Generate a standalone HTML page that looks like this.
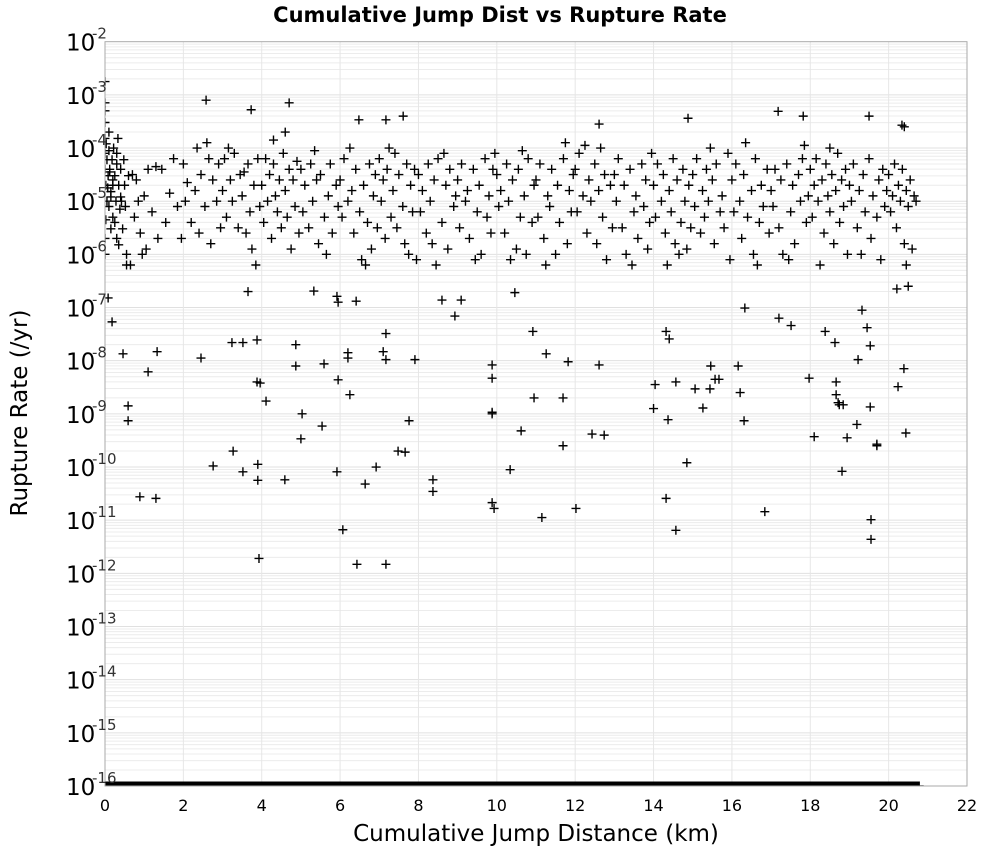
<!DOCTYPE html>
<html><head><meta charset="utf-8">
<style>
body{margin:0;background:#fff;}
svg{display:block;font-family:"DejaVu Sans","Liberation Sans",sans-serif;}
</style></head>
<body>
<svg id="chart" width="1000" height="850" xmlns="http://www.w3.org/2000/svg">
<text x="500" y="22" text-anchor="middle" font-size="21" font-weight="bold">Cumulative Jump Dist vs Rupture Rate</text>
<g id="grid"></g>
<g id="marks"></g>
<rect x="105" y="41.7" width="862" height="744.3" fill="none" stroke="#aaa" stroke-width="1"/>
<g id="xaxis"></g>
<g id="yaxis"></g>
<text x="536" y="841" text-anchor="middle" font-size="23">Cumulative Jump Distance (km)</text>
<text transform="translate(27,413) rotate(-90)" text-anchor="middle" font-size="23">Rupture Rate (/yr)</text>
</svg>
<script>
const xTicks=[0,2,4,6,8,10,12,14,16,18,20,22];
const yExpTicks=[-2,-3,-4,-5,-6,-7,-8,-9,-10,-11,-12,-13,-14,-15,-16];
// [km, log10 rate]
const nearZeroPts=[[0,-3.15],[0,-3.3],[0,-3.52],[0,-3.82],[0,-4.1],[0,-4.4],[0,-5.7],[0,-6],[0.02,-4.7],[0.03,-3.92],[0.05,-4.22],[0.05,-5],[0.08,-4.52],[0.1,-3.7],[0.1,-5.1],[0.12,-4.4],[0.15,-4.82],[0.15,-5.52],[0.18,-4.22],[0.2,-4.7],[0.2,-5.3],[0.22,-4],[0.25,-4.52],[0.28,-5],[0.3,-4.3],[0.3,-5.7],[0.33,-3.82],[0.35,-4.7],[0.38,-5.15],[0.4,-4.4],[0.42,-5],[0.45,-5.52],[0.48,-4.22],[0.5,-4.7],[0.52,-5.1],[0.55,-6],[0.6,-4.52],[0,-2.75],[0.1,-4.05],[0.15,-4.92],[0.2,-4.6],[0.25,-5.4],[0.3,-4.1],[0.35,-5.82],[0.4,-4.92],[0.02,-5.35],[0.07,-4.75],[0.12,-4.45]];
const bandPts=[
[0.7,-4.5],[0.75,-5.3],[0.8,-4.6],[0.85,-5.0],[0.9,-5.6],[1.0,-4.9],[1.05,-5.9],[1.1,-4.4],[1.2,-5.2],[1.3,-4.35],[1.35,-5.7],[1.45,-4.4],[1.55,-5.4],[1.65,-4.85],[1.75,-4.2],[1.85,-5.1],[1.95,-5.7],[0.95,-6.0],[0.55,-6.2],[0.65,-6.2],
[2.0,-4.3],[2.05,-5.0],[2.1,-4.65],[2.2,-5.4],[2.3,-4.8],[2.4,-5.6],[2.45,-4.5],[2.55,-5.1],[2.65,-4.2],[2.7,-5.8],[2.75,-4.6],[2.85,-5.0],[2.9,-4.3],[2.95,-5.5],[2.6,-3.9],[2.35,-4.0],
[3.0,-4.8],[3.05,-4.2],[3.1,-5.3],[3.2,-4.6],[3.25,-5.0],[3.3,-4.1],[3.4,-5.5],[3.45,-4.5],[3.5,-4.9],[3.6,-5.6],[3.65,-4.3],[3.7,-5.2],[3.8,-4.7],[3.85,-6.2],[3.9,-4.2],[3.95,-5.1],[3.75,-5.9],[3.15,-4.0],[3.55,-4.45],
[4.0,-4.7],[4.05,-5.4],[4.1,-4.2],[4.15,-5.0],[4.2,-4.5],[4.25,-5.7],[4.3,-4.3],[4.35,-4.9],[4.4,-5.2],[4.45,-4.6],[4.5,-5.5],[4.55,-4.1],[4.6,-4.8],[4.65,-5.3],[4.7,-4.4],[4.75,-5.9],[4.8,-4.6],[4.85,-5.1],[4.9,-4.25],[4.95,-5.6],[4.3,-3.85],[4.6,-3.7],
[5.0,-4.4],[5.05,-5.2],[5.1,-4.7],[5.2,-5.5],[5.25,-4.3],[5.3,-5.0],[5.4,-4.6],[5.45,-5.8],[5.5,-4.5],[5.6,-5.3],[5.7,-4.9],[5.75,-4.3],[5.8,-5.6],[5.9,-4.7],[5.95,-5.1],[5.35,-4.05],[5.65,-6.0],
[6.0,-4.6],[6.05,-5.3],[6.1,-4.2],[6.2,-5.0],[6.3,-4.8],[6.35,-5.6],[6.4,-4.4],[6.5,-5.2],[6.55,-6.1],[6.6,-4.7],[6.7,-5.4],[6.75,-4.3],[6.8,-5.9],[6.85,-4.9],[6.9,-4.5],[6.95,-5.5],[6.25,-4.0],[6.65,-6.2],
[7.0,-4.2],[7.05,-5.0],[7.1,-4.6],[7.15,-5.7],[7.2,-4.4],[7.3,-5.3],[7.35,-4.8],[7.4,-4.1],[7.45,-5.5],[7.5,-4.5],[7.6,-5.1],[7.7,-4.3],[7.75,-6.0],[7.8,-4.7],[7.85,-5.2],[7.9,-4.4],[7.95,-6.1],[7.25,-4.0],[7.65,-5.8],
[8.0,-4.5],[8.05,-5.2],[8.1,-4.8],[8.2,-5.6],[8.25,-4.3],[8.3,-5.0],[8.4,-4.6],[8.45,-6.2],[8.5,-4.2],[8.6,-5.4],[8.7,-4.7],[8.75,-5.9],[8.8,-4.4],[8.9,-5.1],[8.95,-4.9],[8.35,-5.8],[8.65,-4.1],
[9.0,-4.6],[9.05,-5.5],[9.1,-4.3],[9.2,-5.0],[9.25,-4.8],[9.3,-5.7],[9.4,-4.4],[9.5,-5.2],[9.55,-4.7],[9.6,-6.0],[9.7,-4.2],[9.75,-5.3],[9.8,-4.9],[9.85,-5.6],[9.9,-4.4],[9.95,-4.1],[9.45,-6.1],
[10.0,-4.5],[10.05,-5.1],[10.1,-4.8],[10.2,-5.6],[10.25,-4.3],[10.3,-5.0],[10.4,-4.6],[10.5,-5.9],[10.55,-4.4],[10.6,-5.3],[10.7,-4.9],[10.75,-6.0],[10.8,-4.2],[10.9,-5.4],[10.95,-4.7],[10.35,-6.1],[10.65,-4.05],
[11.0,-4.6],[11.05,-5.3],[11.1,-4.3],[11.2,-5.7],[11.3,-4.9],[11.35,-5.1],[11.4,-4.4],[11.5,-6.0],[11.55,-4.7],[11.6,-5.4],[11.7,-4.2],[11.8,-5.8],[11.85,-4.8],[11.9,-5.2],[11.95,-4.5],[11.25,-6.2],[11.75,-3.9],
[12.0,-4.4],[12.05,-5.2],[12.1,-4.1],[12.2,-4.9],[12.3,-5.6],[12.35,-4.6],[12.4,-5.0],[12.5,-4.3],[12.55,-5.8],[12.6,-4.8],[12.7,-5.3],[12.75,-4.5],[12.8,-6.1],[12.9,-4.7],[12.95,-5.5],[12.25,-3.95],[12.65,-4.0],
[13.0,-4.5],[13.05,-5.0],[13.1,-4.2],[13.2,-5.5],[13.25,-4.7],[13.3,-6.0],[13.4,-4.4],[13.5,-5.2],[13.55,-4.9],[13.6,-5.7],[13.7,-4.3],[13.75,-5.1],[13.8,-4.6],[13.9,-5.4],[13.95,-4.1],[13.45,-6.2],[13.85,-5.9],
[14.0,-4.7],[14.05,-5.3],[14.1,-4.3],[14.2,-5.0],[14.25,-4.5],[14.3,-5.6],[14.4,-4.8],[14.45,-5.2],[14.5,-4.2],[14.55,-5.8],[14.6,-4.6],[14.7,-5.4],[14.75,-4.4],[14.8,-5.0],[14.85,-5.9],[14.9,-4.7],[14.95,-5.5],[14.35,-6.2],[14.65,-6.0],
[15.0,-4.5],[15.05,-5.1],[15.1,-4.2],[15.2,-5.6],[15.25,-4.8],[15.3,-5.3],[15.35,-4.4],[15.4,-5.0],[15.5,-4.6],[15.55,-5.8],[15.6,-4.3],[15.7,-5.2],[15.75,-4.9],[15.8,-5.5],[15.9,-4.1],[15.95,-6.1],[15.45,-4.0],
[16.0,-4.6],[16.05,-5.2],[16.1,-4.3],[16.2,-5.0],[16.25,-5.7],[16.3,-4.5],[16.4,-5.3],[16.5,-4.8],[16.55,-6.0],[16.6,-4.2],[16.7,-5.4],[16.75,-4.7],[16.8,-5.1],[16.9,-4.4],[16.95,-5.6],[16.35,-3.9],[16.65,-6.2],
[17.0,-4.8],[17.05,-5.1],[17.1,-4.4],[17.2,-5.5],[17.25,-4.6],[17.3,-6.0],[17.4,-4.3],[17.5,-5.2],[17.55,-4.7],[17.6,-5.8],[17.7,-4.5],[17.75,-5.0],[17.8,-4.2],[17.9,-5.4],[17.95,-4.9],[17.45,-6.1],[17.85,-3.95],
[18.0,-4.4],[18.05,-5.3],[18.1,-4.7],[18.15,-4.2],[18.2,-5.0],[18.3,-4.6],[18.35,-5.6],[18.4,-4.3],[18.45,-4.9],[18.5,-5.2],[18.55,-4.5],[18.6,-5.8],[18.65,-4.8],[18.7,-4.1],[18.75,-5.4],[18.8,-4.6],[18.85,-5.1],[18.9,-4.4],[18.95,-6.0],[18.25,-6.2],[18.5,-4.0],
[19.0,-4.7],[19.05,-5.0],[19.1,-4.3],[19.2,-5.5],[19.25,-4.8],[19.3,-6.0],[19.35,-4.5],[19.4,-5.2],[19.5,-4.2],[19.55,-5.7],[19.6,-4.9],[19.7,-5.3],[19.75,-4.6],[19.8,-6.1],[19.85,-4.4],[19.9,-5.1],[19.95,-4.8],
[20.0,-4.5],[20.05,-5.2],[20.1,-4.9],[20.15,-4.3],[20.2,-5.5],[20.25,-4.7],[20.3,-5.0],[20.35,-4.4],[20.4,-5.8],[20.45,-4.8],[20.5,-5.1],[20.55,-4.6],[20.6,-5.9],[20.65,-4.9],[20.7,-5.0],[20.4,-3.6],[20.45,-6.2],[20.5,-6.6]];
const highPts=[[2.58,-3.1],[3.73,-3.28],[4.7,-3.15],[6.48,-3.47],[7.17,-3.47],[7.61,-3.4],[12.61,-3.55],[14.88,-3.44],[17.18,-3.31],[17.82,-3.4],[19.5,-3.4],[20.34,-3.57]];
const lowPts=[[0.08,-6.82],[0.18,-7.27],[0.46,-7.87],[0.59,-8.85],[0.59,-9.13],[1.1,-8.21],[1.33,-7.83],[0.89,-10.56],[1.3,-10.59],[2.45,-7.95],[2.76,-9.98],[3.24,-7.66],[3.27,-9.7],[3.52,-7.66],[3.52,-10.09],[3.65,-6.7],[3.88,-7.61],[3.88,-8.4],[3.96,-8.42],[3.9,-9.95],[3.9,-10.25],[3.93,-11.72],[4.11,-8.76],[4.59,-10.24],[4.87,-7.7],[4.87,-8.1],[5.03,-9],[5,-9.47],[5.33,-6.69],[5.54,-9.23],[5.59,-8.06],[5.92,-6.79],[5.95,-6.9],[5.95,-8.36],[5.92,-10.09],[6.07,-11.18],[6.2,-7.85],[6.2,-7.95],[6.25,-8.64],[6.41,-6.88],[6.43,-11.83],[6.64,-10.32],[6.92,-10],[7.1,-7.83],[7.17,-7.49],[7.17,-7.98],[7.17,-11.83],[7.48,-9.7],[7.66,-9.72],[7.76,-9.13],[7.91,-7.98],[8.37,-10.24],[8.37,-10.46],[8.6,-6.86],[8.93,-7.16],[9.09,-6.86],[9.88,-8.08],[9.88,-8.33],[9.88,-8.97],[9.88,-9],[9.88,-10.67],[9.93,-10.78],[10.34,-10.05],[10.62,-9.32],[10.46,-6.72],[10.92,-7.45],[10.95,-8.7],[11.15,-10.95],[11.26,-7.87],[11.69,-8.7],[11.69,-9.6],[12.02,-10.78],[11.82,-8.02],[12.43,-9.38],[12.61,-8.08],[12.74,-9.4],[14,-8.9],[14.04,-8.45],[14.32,-7.45],[14.37,-9.11],[14.32,-10.59],[14.57,-11.19],[14.4,-7.59],[14.57,-8.4],[14.85,-9.92],[15.06,-8.53],[15.26,-8.89],[15.44,-8.53],[15.46,-8.1],[15.57,-8.35],[15.67,-8.35],[16.33,-7.01],[16.16,-8.1],[16.31,-9.13],[16.21,-8.6],[16.84,-10.84],[17.2,-7.2],[17.51,-7.34],[17.97,-8.33],[18.1,-9.43],[18.38,-7.45],[18.63,-7.66],[18.66,-8.4],[18.66,-8.64],[18.71,-8.79],[18.74,-8.83],[18.84,-8.83],[18.81,-10.08],[18.94,-9.45],[19.19,-9.2],[19.32,-7.05],[19.45,-7.38],[19.53,-7.72],[19.53,-8.87],[19.55,-10.99],[19.55,-11.36],[19.7,-9.57],[19.7,-9.6],[20.21,-6.65],[20.24,-8.49],[20.39,-8.15],[20.44,-9.36],[19.22,-7.98]];
const zeroRateKm=[0,0.5,1,1.5,2,2.5,3,3.5,4,4.5,5,5.5,6,6.5,7,7.5,8,8.5,9,9.5,10,10.5,11,11.5,12,12.5,13,13.5,14,14.5,15,15.5,16,16.5,17,17.5,18,18.5,19,19.5,20,20.4,20.78];
const zeroRateExp=-16;

const NS="http://www.w3.org/2000/svg";
const L=105,R=967,T=41.7,B=786,XMAX=22,YTOP=-2,YBOT=-16;
const sx=v=>L+(v/XMAX)*(R-L);
const sy=e=>T+(YTOP-e)/(YTOP-YBOT)*(B-T);
function mk(tag,attrs,parent){const e=document.createElementNS(NS,tag);for(const k in attrs)e.setAttribute(k,attrs[k]);parent.appendChild(e);return e;}
const grid=document.getElementById('grid'),marks=document.getElementById('marks'),xa=document.getElementById('xaxis'),ya=document.getElementById('yaxis');
for(let d=YBOT;d<YTOP;d++){for(let m=1;m<10;m++){const y=sy(d+Math.log10(m));
 const g=mk('line',{x1:L,x2:R,y1:y,y2:y,stroke:m===1?'#e0e0e0':'#ececec','stroke-width':1},grid);
 
 }}
xTicks.forEach(t=>{const x=sx(t);
 const g=mk('line',{x1:x,x2:x,y1:T,y2:B,stroke:'#e6e6e6','stroke-width':1},grid);
 
 
 const tx=mk('text',{x:x,y:811,'text-anchor':'middle','font-size':16},xa);
 tx.textContent=t;
 
 });
yExpTicks.forEach(e=>{const y=sy(e);
 const tx=mk('text',{x:66,y:y+9,'font-size':23},ya);
 tx.textContent='10';
 
 
 const sup=mk('text',{x:92,y:y-3,'font-size':15,fill:'#333'},ya);
 sup.textContent=String(e);
 
 });
const defs=mk('defs',{},document.getElementById('chart'));
const cp=mk('clipPath',{id:'pc'},defs);mk('rect',{x:L,y:T,width:R-L,height:B-T},cp);
marks.setAttribute('clip-path','url(#pc)');
function plus(x,e,name){const px=sx(x),py=sy(e);
 const p=mk('path',{d:`M${px-4.5},${py}H${px+4.5}M${px},${py-4.5}V${py+4.5}`,stroke:'#000','stroke-width':1.4,fill:'none'},marks);
 
 }
[nearZeroPts,bandPts,highPts,lowPts].forEach(arr=>arr.forEach(p=>plus(p[0],p[1],'rupture-point')));
const zmin=Math.min(...zeroRateKm),zmax=Math.max(...zeroRateKm);
const band=mk('rect',{x:sx(zmin),y:sy(zeroRateExp)-4.5,width:sx(zmax)-sx(zmin),height:4.5,fill:'#000'},marks);


zeroRateKm.forEach(k=>plus(k,zeroRateExp,'zero-rate-point'));
</script>
</body></html>
